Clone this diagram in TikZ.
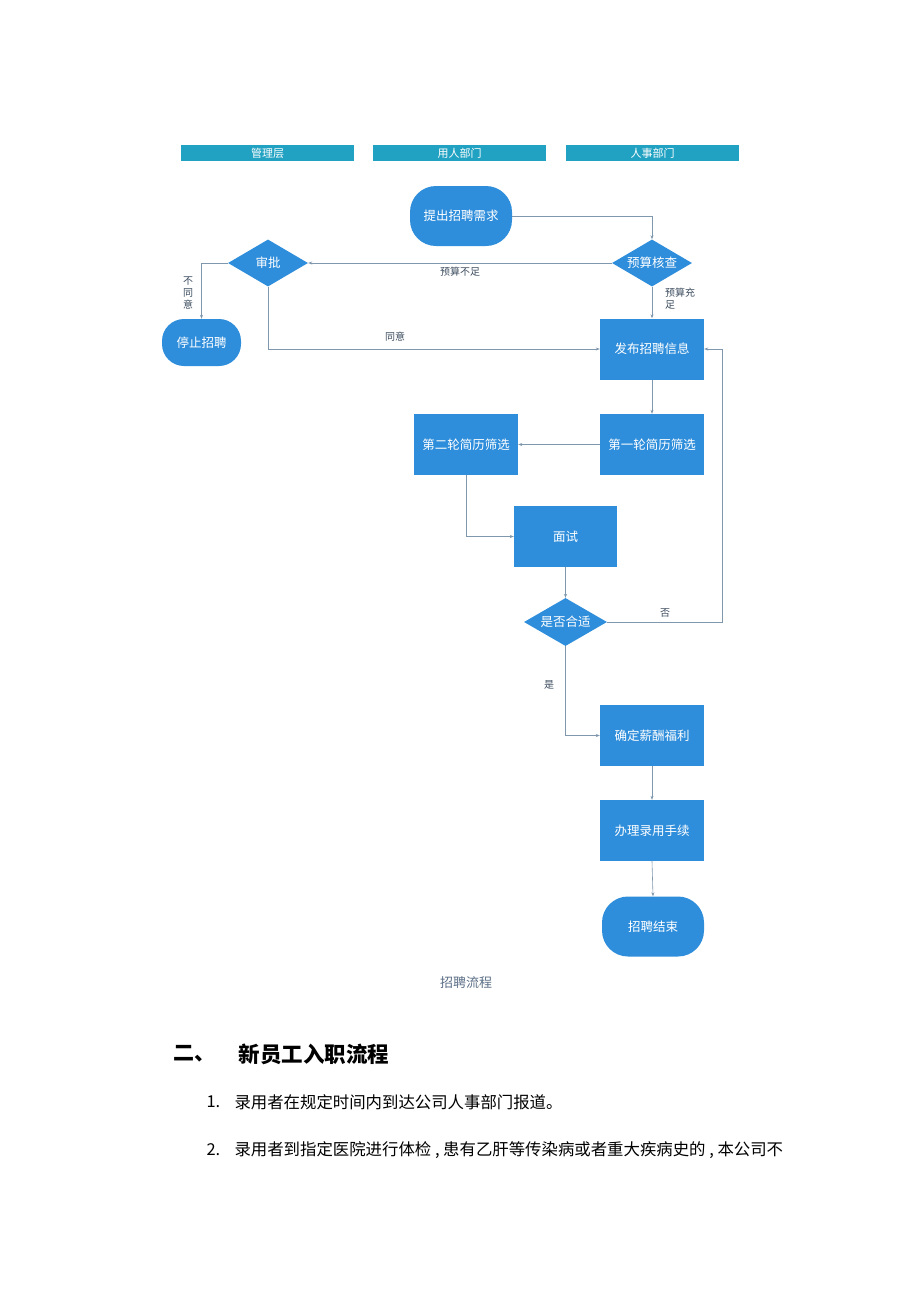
\documentclass[tikz,border=0pt]{standalone}
\usepackage{fontspec}
\setmainfont{Noto Sans CJK SC}
\newfontfamily\cjk{Noto Sans CJK SC}
\usetikzlibrary{shapes.geometric,arrows.meta}
\definecolor{boxblue}{HTML}{2F8EDB}
\definecolor{headteal}{HTML}{22A2C2}
\definecolor{lineg}{HTML}{7F98AE}
\definecolor{labelc}{HTML}{3E4E60}
\definecolor{capc}{HTML}{5A6E86}
\tikzset{
  base/.style={fill=boxblue, draw=none, text=white, font=\cjk\fontsize{12.5}{14}\selectfont, inner sep=0pt},
  procbox/.style={base, rectangle, minimum width=104pt, minimum height=61pt},
  termbox/.style={base, rectangle, rounded corners=26pt, minimum width=102pt, minimum height=60pt},
  decbox/.style={base, diamond, aspect=1.7, minimum width=80pt, minimum height=47pt},
  headbar/.style={fill=headteal, text=white, minimum width=173pt, minimum height=16pt, inner sep=0pt, font=\cjk\fontsize{11}{12}\selectfont},
  conn/.style={draw=lineg, line width=0.6pt, -{Stealth[length=4pt,width=3pt]}},
  lbl/.style={text=labelc, font=\cjk\fontsize{10}{11}\selectfont, inner sep=0pt},
  body/.style={anchor=west, font=\cjk\fontsize{16.4}{18}\selectfont}
}
\begin{document}
\begin{tikzpicture}[x=1pt,y=-1pt]
\useasboundingbox (0,0) rectangle (920,1302);
\fill[white] (0,0) rectangle (920,1302);
% headers
\node[headbar] (h1) at (267.5,153) {管理层};
\node[headbar] (h2) at (459.5,153) {用人部门};
\node[headbar] (h3) at (652.5,153) {人事部门};
% nodes
\node[termbox] (req) at (461,216) {提出招聘需求};
\node[decbox] (budget) at (652,263) {预算核查};
\node[decbox] (appr) at (268,263) {审批};
\node[termbox, minimum width=79pt, minimum height=47pt, rounded corners=22pt] (stop) at (201.5,342.5) {停止招聘};
\node[procbox] (pub) at (652,349) {发布招聘信息};
\node[procbox] (r1) at (652,444.5) {第一轮简历筛选};
\node[procbox] (r2) at (466,444.5) {第二轮简历筛选};
\node[procbox, minimum width=103pt] (iv) at (565.5,536.5) {面试};
\node[decbox, minimum width=83pt, minimum height=48pt] (fit) at (565.5,622) {是否合适};
\node[procbox] (sal) at (652,735.5) {确定薪酬福利};
\node[procbox] (hire) at (652,830.5) {办理录用手续};
\node[termbox] (end) at (653,926.5) {招聘结束};
% connectors
\coordinate (c1) at (652,216);
\draw[conn] (req.east) -- (c1) -- (budget.north);
\draw[conn] (budget.west) -- node[lbl, below=4pt, pos=0.5] {预算不足} (appr.east);
\coordinate (c2) at (201.5,263);
\draw[conn] (appr.west) -- (c2) -- (stop.north);
\node[lbl, align=center, font=\cjk\fontsize{10}{12}\selectfont] (lno) at (188,293) {不\\同\\意};
\coordinate (c3) at (268,349);
\draw[conn] (appr.south) -- (c3) -- (pub.west);
\node[lbl] (lyes1) at (395,337) {同意};
\draw[conn] (budget.south) -- (pub.north);
\node[lbl, align=left, font=\cjk\fontsize{10}{12}\selectfont] (lok) at (680,299) {预算充\\足};
\draw[conn] (pub.south) -- (r1.north);
\draw[conn] (r1.west) -- (r2.east);
\coordinate (c4) at (466,536.5);
\draw[conn] (r2.south) -- (c4) -- (iv.west);
\draw[conn] (iv.south) -- (fit.north);
\coordinate (c5) at (722,622);
\coordinate (c6) at (722,349);
\draw[conn] (fit.east) -- (c5) -- (c6) -- (pub.east);
\node[lbl] (lno2) at (665,613) {否};
\coordinate (c7) at (565.5,735.5);
\draw[conn] (fit.south) -- (c7) -- (sal.west);
\node[lbl] (lyes2) at (549,685) {是};
\draw[conn] (sal.south) -- (hire.north);
\draw[conn] (hire.south) -- (end.north);
% caption
\node[text=capc, font=\cjk\fontsize{13}{15}\selectfont] (cap) at (466,983) {招聘流程};
% body text
\node[anchor=west, font=\cjk\bfseries\fontsize{21}{24}\selectfont] (sec) at (170,1054) {二、};
\node[anchor=west, font=\cjk\bfseries\fontsize{21.5}{24}\selectfont] (sect) at (235,1054) {新员工入职流程};
\node[body] (n1) at (203,1102) {1.};
\node[body] (t1) at (231,1102) {录用者在规定时间内到达公司人事部门报道。};
\node[body] (n2) at (203,1150) {2.};
\node[body] (t2) at (231,1150) {录用者到指定医院进行体检 , 患有乙肝等传染病或者重大疾病史的 , 本公司不};
\end{tikzpicture}
\end{document}
